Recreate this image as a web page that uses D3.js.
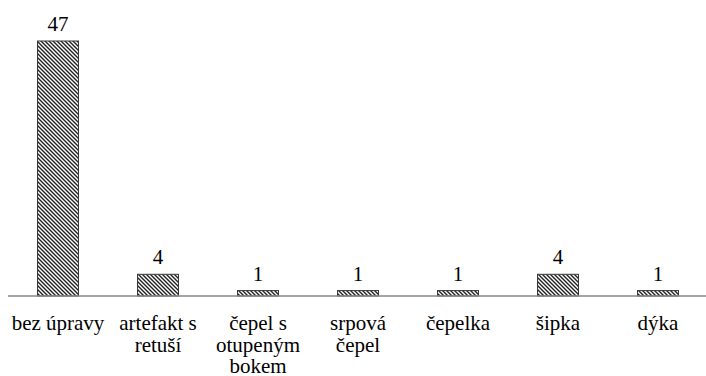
<!DOCTYPE html>
<html>
<head>
<meta charset="utf-8">
<script src="https://cdn.jsdelivr.net/npm/d3@7"></script>
<style>
  body { margin: 0; background: #fff; }
  svg { display: block; }
</style>
</head>
<body>
<div id="chart"></div>
<script>
// data
var categories = ["bez úpravy", "artefakt s\nretuší", "čepel s\notupeným\nbokem", "srpová\nčepel", "čepelka", "šipka", "dýka"];
var values = [47, 4, 1, 1, 1, 4, 1];

var width = 706, height = 376;
var baseY = 296;
var serif = "'Liberation Serif', 'Times New Roman', 'DejaVu Serif', serif";

var svg = d3.select("#chart")
	.append("svg")
	.attr("width", width)
	.attr("height", height)
	.attr("font-family", serif);

//hatch pattern
var defs = svg.append("defs");
var pat = defs.append("pattern")
	.attr("id", "hatch")
	.attr("patternUnits", "userSpaceOnUse")
	.attr("width", 4)
	.attr("height", 4);
pat.append("rect").attr("width", 4).attr("height", 4).attr("fill", "#fff");
pat.append("path")
	.attr("d", "M0,0L4,4M-1,3L1,5M3,-1L5,1")
	.attr("stroke", "#222")
	.attr("stroke-width", 1.4);

//scales
var x = d3.scaleBand()
	.domain(categories)
	.range([8, 708])
	.paddingInner(0.59)
	.paddingOuter(0.295);

var y = d3.scaleLinear()
	.domain([0, 47])
	.range([baseY, 41]);

var data = categories.map(function(c, i) { return { cat: c, val: values[i] }; });

//bars
svg.selectAll(".bar")
	.data(data)
	.enter()
	.append("rect")
	.attr("class", "bar")
	.attr("x", function(d) { return x(d.cat); })
	.attr("y", function(d) { return y(d.val); })
	.attr("width", x.bandwidth())
	.attr("height", function(d) { return baseY - y(d.val); })
	.attr("fill", "url(#hatch)")
	.attr("stroke", "#3a3a3a")
	.attr("stroke-width", 1);

//value labels
svg.selectAll(".val")
	.data(data)
	.enter()
	.append("text")
	.attr("class", "val")
	.attr("x", function(d) { return x(d.cat) + x.bandwidth() / 2; })
	.attr("y", function(d) { return y(d.val) - 10; })
	.attr("text-anchor", "middle")
	.attr("font-family", serif)
	.attr("font-size", 21)
	.text(function(d) { return d.val; });

//x axis
var xAxis = svg.append("g")
	.attr("class", "x axis")
	.attr("transform", "translate(0," + baseY + ")")
	.call(d3.axisBottom(x).tickSize(0).tickPadding(0))
	.attr("font-family", serif)
	.attr("font-size", 21);
xAxis.select(".domain")
	.attr("d", "M8,0H706")
	.attr("stroke", "#878787")
	.attr("stroke-width", 1.5);
xAxis.selectAll(".tick text")
	.attr("dy", null)
	.attr("font-family", serif)
	.each(function(d) {
		var t = d3.select(this).text(null);
		d.split("\n").forEach(function(line, i) {
			t.append("tspan").attr("x", 0).attr("y", 34 + i * 21.5).text(line);
		});
	});
</script>
</body>
</html>
